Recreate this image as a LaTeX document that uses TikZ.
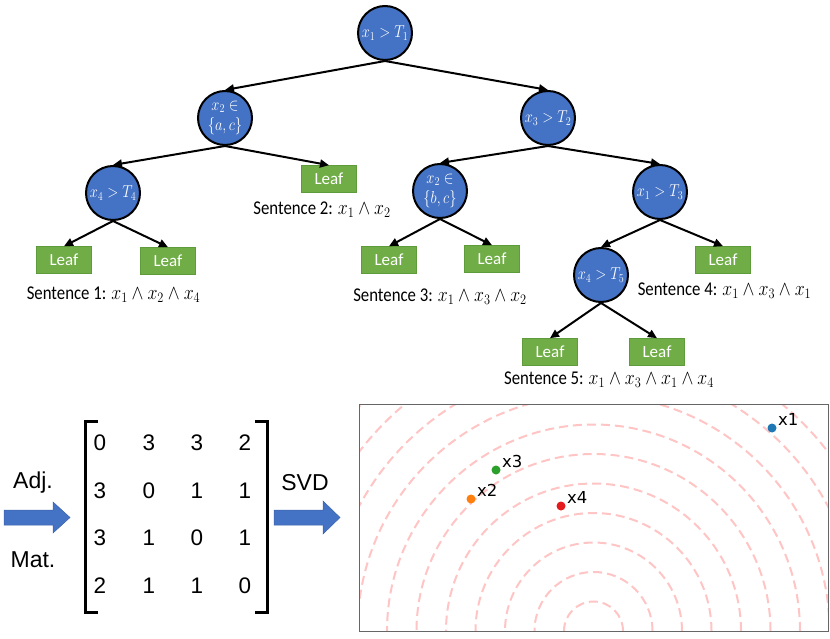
\documentclass[tikz,border=0pt]{standalone}
\usepackage{fontspec}
\setmainfont{Carlito}
\newfontfamily\arialf{Liberation Sans}
\newfontfamily\dejavuf{DejaVu Sans}
\usetikzlibrary{arrows.meta}
\definecolor{nodeblue}{HTML}{4472C4}
\definecolor{leafgreen}{HTML}{70AD47}
\definecolor{leafborder}{HTML}{5E9B3A}
\definecolor{ringpink}{HTML}{FFC4C4}
\definecolor{mplblue}{HTML}{1F77B4}
\definecolor{mplorange}{HTML}{FF7F0E}
\definecolor{mplgreen}{HTML}{2CA02C}
\definecolor{mplred}{HTML}{E41A1C}
\newcommand{\sqz}[1]{\scalebox{0.86}[1]{#1}}
\newcommand{\sqc}[1]{\scalebox{0.84}[1]{#1}}
\tikzset{
  split/.style={circle, draw=black, line width=2pt, fill=nodeblue, minimum size=54pt, inner sep=0pt, text=white, font=\fontsize{17.5}{19}\selectfont, align=center},
  leafbox/.style={rectangle, draw=leafborder, line width=0.6pt, fill=leafgreen, minimum width=55pt, minimum height=27pt, inner sep=0pt, text=white, font=\fontsize{17}{19}\selectfont},
  edge/.style={line width=2pt, -{Triangle[length=9pt,width=8pt]}},
  sentence/.style={font=\fontsize{19.5}{22}\selectfont, inner sep=0pt},
  bigtxt/.style={font=\arialf\fontsize{23}{26}\selectfont, inner sep=0pt},
  digit/.style={font=\arialf\fontsize{22.5}{24}\selectfont, inner sep=0pt},
  blockarrow/.style={fill=nodeblue, draw=nodeblue!85!black, line width=0.5pt},
  bracket/.style={line width=3pt, line cap=butt, line join=miter},
  ring/.style={ringpink, line width=2pt, dash pattern=on 9pt off 5pt},
  ptlabel/.style={font=\dejavuf\fontsize{16.5}{18}\selectfont, inner sep=0pt, anchor=south west}
}
\begin{document}
\begin{tikzpicture}[x=1pt,y=-1pt]
\useasboundingbox (0,0) rectangle (830,639);
% ---- tree nodes ----
\node[split] (root) at (385,33) {\sqc{$x_1>T_1$}};
\node[split] (n2) at (225,118) {\sqc{$x_2\in$}\\[1.5pt]\sqc{$\{a,c\}$}};
\node[split] (n3) at (548,118) {\sqc{$x_3>T_2$}};
\node[split] (n4) at (113,193) {\sqc{$x_4>T_4$}};
\node[split] (n5) at (440,191) {\sqc{$x_2\in$}\\[1.5pt]\sqc{$\{b,c\}$}};
\node[split] (n6) at (660,192) {\sqc{$x_1>T_3$}};
\node[split] (n7) at (601,275) {\sqc{$x_4>T_5$}};
\node[leafbox] (l1a) at (64,260) {Leaf};
\node[leafbox] (l1b) at (168,261) {Leaf};
\node[leafbox] (l2) at (329,179) {Leaf};
\node[leafbox] (l3a) at (389,260) {Leaf};
\node[leafbox] (l3b) at (492,259) {Leaf};
\node[leafbox] (l4) at (723,260) {Leaf};
\node[leafbox] (l5a) at (550,352) {Leaf};
\node[leafbox] (l5b) at (657,352) {Leaf};
% ---- edges ----
\draw[edge] (root.south) -- (n2.north);
\draw[edge] (root.south) -- (n3.north);
\draw[edge] (n2.south) -- (n4.north);
\draw[edge] (n2.south) -- (l2.north);
\draw[edge] (n4.south) -- (l1a.north);
\draw[edge] (n4.south) -- (l1b.north);
\draw[edge] (n3.south) -- (n5.north);
\draw[edge] (n3.south) -- (n6.north);
\draw[edge] (n5.south) -- (l3a.north);
\draw[edge] (n5.south) -- (l3b.north);
\draw[edge] (n6.south) -- (n7.north);
\draw[edge] (n6.south) -- (l4.north);
\draw[edge] (n7.south) -- (l5a.north);
\draw[edge] (n7.south) -- (l5b.north);
% ---- sentences ----
\node[sentence] (s1) at (113.5,295) {\sqz{Sentence 1: $x_1\wedge x_2\wedge x_4$}};
\node[sentence] (s2) at (322,210) {\sqz{Sentence 2: $x_1\wedge x_2$}};
\node[sentence] (s3) at (440,297) {\sqz{Sentence 3: $x_1\wedge x_3\wedge x_2$}};
\node[sentence] (s4) at (724.5,291) {\sqz{Sentence 4: $x_1\wedge x_3\wedge x_1$}};
\node[sentence] (s5) at (609,380) {\sqz{Sentence 5: $x_1\wedge x_3\wedge x_1\wedge x_4$}};
% ---- adjacency arrow ----
\node[bigtxt] (adj) at (33,483) {Adj.};
\node[bigtxt] (mat) at (33,560) {Mat.};
\fill[blockarrow] (4,510) -- (53,510) -- (53,502) -- (70,517.5) -- (53,533) -- (53,525) -- (4,525) -- cycle;
% ---- matrix ----
\draw[bracket] (98,421) -- (85,421) -- (85,612) -- (98,612);
\draw[bracket] (255,421) -- (267,421) -- (267,612) -- (255,612);
\node[digit] (m11) at (100,443) {0};
\node[digit] (m12) at (149,443) {3};
\node[digit] (m13) at (197,443) {3};
\node[digit] (m14) at (245,443) {2};
\node[digit] (m21) at (100,491) {3};
\node[digit] (m22) at (149,491) {0};
\node[digit] (m23) at (197,491) {1};
\node[digit] (m24) at (245,491) {1};
\node[digit] (m31) at (100,538) {3};
\node[digit] (m32) at (149,538) {1};
\node[digit] (m33) at (197,538) {0};
\node[digit] (m34) at (245,538) {1};
\node[digit] (m41) at (100,586) {2};
\node[digit] (m42) at (149,586) {1};
\node[digit] (m43) at (197,586) {1};
\node[digit] (m44) at (245,586) {0};
% ---- SVD arrow ----
\node[bigtxt] (svd) at (305,483) {SVD};
\fill[blockarrow] (274,510) -- (323,510) -- (323,501) -- (340,517.5) -- (323,534) -- (323,525) -- (274,525) -- cycle;
% ---- plot ----
\begin{scope}
  \clip (359,404) rectangle (828,631);
  \foreach \k in {1,...,12} {
    \draw[ring] (593.5,631) circle[radius=\k*29.5pt];
  }
\end{scope}
\draw[line width=1pt, draw=black!60] (359,404) rectangle (828,631);
\fill[mplblue] (772,428) circle[radius=4.5pt];
\fill[mplgreen] (496,470) circle[radius=4.5pt];
\fill[mplorange] (471,499) circle[radius=4.5pt];
\fill[mplred] (561,506) circle[radius=4.5pt];
\node[ptlabel] (t1) at (778,426) {x1};
\node[ptlabel] (t3) at (502,468) {x3};
\node[ptlabel] (t2) at (477,497) {x2};
\node[ptlabel] (t4) at (567,504) {x4};
\end{tikzpicture}
\end{document}
